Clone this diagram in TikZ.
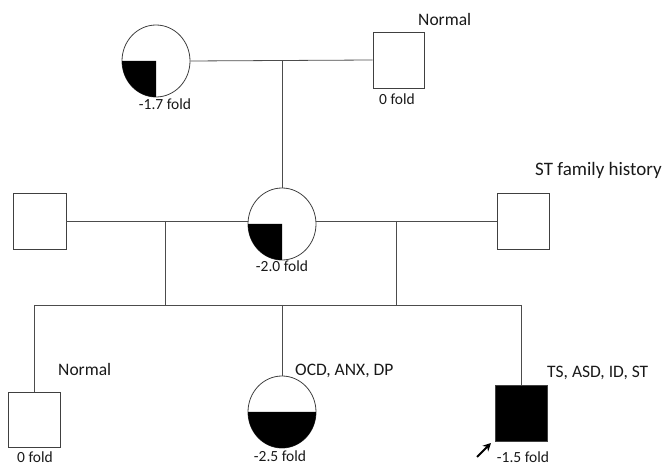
\documentclass[tikz,border=0pt]{standalone}
\usepackage{fontspec}
\setmainfont{Carlito}
\usetikzlibrary{shapes.geometric,arrows.meta}
\begin{document}
\begin{tikzpicture}[x=1pt,y=1pt,
  line/.style={draw=black!70,line width=0.8pt},
  male/.style={rectangle,draw=black!75,line width=0.8pt,minimum width=52pt,minimum height=56pt,inner sep=0pt},
  female/.style={ellipse,draw=black!75,line width=0.8pt,minimum width=68pt,minimum height=72pt,inner sep=0pt},
  lbl/.style={anchor=base west,inner sep=0pt,font=\fontsize{17.5}{20}\selectfont,text=black!90},
  fold/.style={anchor=base,inner sep=0pt,font=\fontsize{15.5}{18}\selectfont,text=black!90}]
\useasboundingbox (0,0) rectangle (665,466);

% generation I
\node[female] (gm) at (156,405) {};
\node[male,minimum width=51pt] (gf) at (398.5,406) {};
% generation II
\node[female] (m) at (282,242) {};
\node[male,minimum width=53pt] (lh) at (39.5,245) {};
\node[male] (rh) at (523,245) {};
% generation III
\node[male,minimum height=55pt] (bl) at (34.5,46.5) {};
\node[female] (d) at (282,54) {};
\node[male,fill=black] (p) at (521,53) {};

% fills
\fill (gm.center) -- ++(-34,0) arc[start angle=180,end angle=270,x radius=34,y radius=36] -- cycle;
\fill (m.center) -- ++(-34,0) arc[start angle=180,end angle=270,x radius=34,y radius=36] -- cycle;
\fill (d.center) -- ++(-34,0) arc[start angle=180,end angle=360,x radius=34,y radius=36] -- cycle;

% junction coordinates
\coordinate (tj) at (282,405);
\coordinate (dl) at (165.5,245);
\coordinate (dr) at (396,245);
\coordinate (sl) at (165.5,161);
\coordinate (sr) at (396,161);
\coordinate (sa) at (34.5,161);
\coordinate (sm) at (282,161);
\coordinate (sb) at (521,161);
\coordinate (a1) at (477,9);
\coordinate (a2) at (491,23);

% connectors
\draw[line] (gm.east) -- (gf.west);
\draw[line] (tj) -- (m.north);
\draw[line] (lh.east) -- (lh.east -| m.west);
\draw[line] (rh.west -| m.east) -- (rh.west);
\draw[line] (dl) -- (sl);
\draw[line] (dr) -- (sr);
\draw[line] (sa) -- (sb);
\draw[line] (sa) -- (bl.north);
\draw[line] (sm) -- (d.north);
\draw[line] (sb) -- (p.north);
\draw[-{Stealth[length=8pt,width=8pt]},line width=2pt] (a1) -- (a2);

% labels
\node[lbl] (t1) at (418,440.5) {Normal};
\node[fold] (f1) at (397,361) {0 fold};
\node[fold] (f2) at (165,356) {-1.7 fold};
\node[lbl,font=\fontsize{19}{22}\selectfont] (t2) at (535,290) {ST family history};
\node[fold] (f3) at (282,194) {-2.0 fold};
\node[lbl] (t3) at (58,90.5) {Normal};
\node[lbl] (t4) at (295,90.5) {OCD, ANX, DP};
\node[lbl] (t5) at (547,88.5) {TS, ASD, ID, ST};
\node[fold] (f4) at (35,3) {0 fold};
\node[fold] (f5) at (280,4) {-2.5 fold};
\node[fold] (f6) at (523,3) {-1.5 fold};
\end{tikzpicture}
\end{document}
